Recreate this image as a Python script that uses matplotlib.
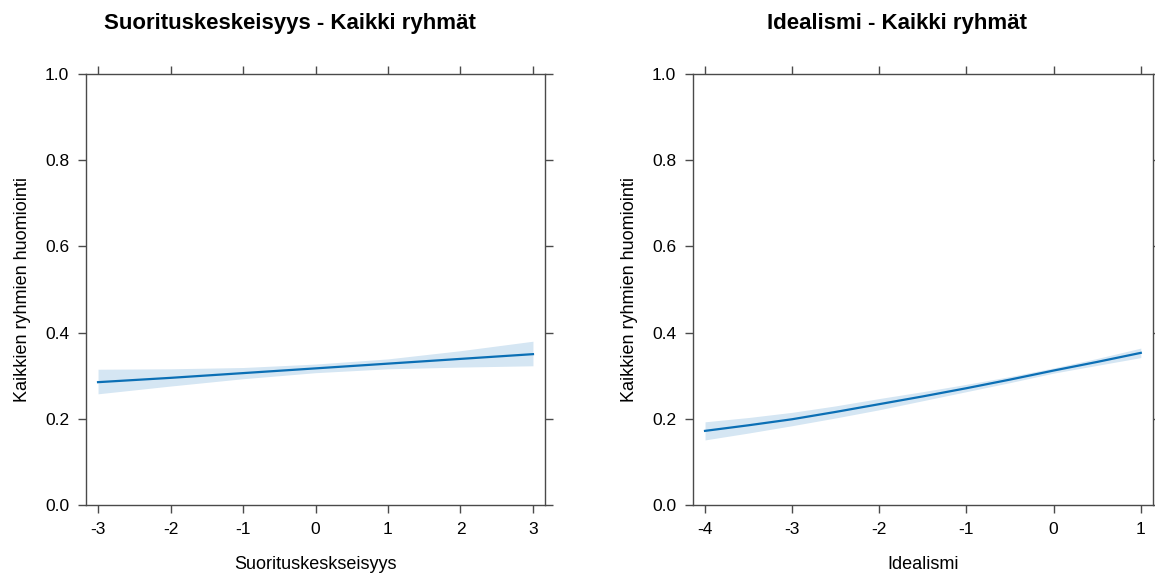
import matplotlib
matplotlib.use('Agg')
import matplotlib.pyplot as plt

plt.rcParams['font.family'] = ['Liberation Sans', 'DejaVu Sans']

# Vasen paneeli: Suorituskeskeisyys
x_suor = [-3, -2, -1, 0, 1, 2, 3]
fit_suor = [0.285, 0.295, 0.306, 0.317, 0.328, 0.339, 0.350]
low_suor = [0.258, 0.276, 0.293, 0.307, 0.316, 0.320, 0.323]
upp_suor = [0.315, 0.316, 0.319, 0.327, 0.339, 0.358, 0.380]

# Oikea paneeli: Idealismi (luettu puolen yksikön välein)
x_ideal = [-4, -3.5, -3, -2.5, -2, -1.5, -1, -0.5, 0, 0.5, 1]
fit_ideal = [0.172, 0.185, 0.199, 0.216, 0.234, 0.252, 0.271, 0.291, 0.312, 0.332, 0.353]
low_ideal = [0.151, 0.167, 0.184, 0.202, 0.221, 0.242, 0.263, 0.284, 0.306, 0.324, 0.342]
upp_ideal = [0.193, 0.203, 0.215, 0.230, 0.247, 0.263, 0.280, 0.298, 0.318, 0.340, 0.364]
xticks_ideal = [-4, -3, -2, -1, 0, 1]

titles = ['Suorituskeskeisyys - Kaikki ryhmät', 'Idealismi - Kaikki ryhmät']
xlabels = ['Suorituskeskseisyys', 'Idealismi']
ylabel = 'Kaikkien ryhmien huomiointi'
yticks = [0.0, 0.2, 0.4, 0.6, 0.8, 1.0]

W, H = 1155, 578
fig = plt.figure(figsize=(W / 100, H / 100), dpi=100)

line_col = '#0b6fb5'
band_col = '#d5e6f3'
axis_col = '#4a4a4a'


def px_axes(x0, x1, y0, y1):
    return fig.add_axes([x0 / W, (H - y1) / H, (x1 - x0) / W, (y1 - y0) / H])


panels = [
    (px_axes(86, 545, 74, 505), x_suor, fit_suor, low_suor, upp_suor, x_suor, (-3.166, 3.166)),
    (px_axes(693, 1153, 74, 505), x_ideal, fit_ideal, low_ideal, upp_ideal, xticks_ideal, (-4.138, 1.14)),
]

for i, (ax, xs, fit, low, upp, xt, xlim) in enumerate(panels):
    ax.fill_between(xs, low, upp, color=band_col, linewidth=0)
    ax.plot(xs, fit, color=line_col, linewidth=1.6)
    ax.set_xlim(*xlim)
    ax.set_ylim(0, 1)
    ax.set_xticks(xt)
    ax.set_xticklabels([str(v) for v in xt])
    ax.set_yticks(yticks)
    ax.set_yticklabels(['%.1f' % v for v in yticks])
    ax.tick_params(direction='out', length=6, width=1, color=axis_col,
                   labelsize=12.5, pad=6, top=True, right=True)
    for s in ax.spines.values():
        s.set_color(axis_col)
        s.set_linewidth(1)
    ax.set_xlabel(xlabels[i], fontsize=13, labelpad=14)
    ax.set_ylabel(ylabel, fontsize=13, labelpad=10)

fig.text(290 / W, 1 - 29 / H, titles[0], ha='center', va='baseline',
         fontsize=16, fontweight='bold')
fig.text(897 / W, 1 - 29 / H, titles[1], ha='center', va='baseline',
         fontsize=16, fontweight='bold')

fig.savefig('out.png', dpi=100)
